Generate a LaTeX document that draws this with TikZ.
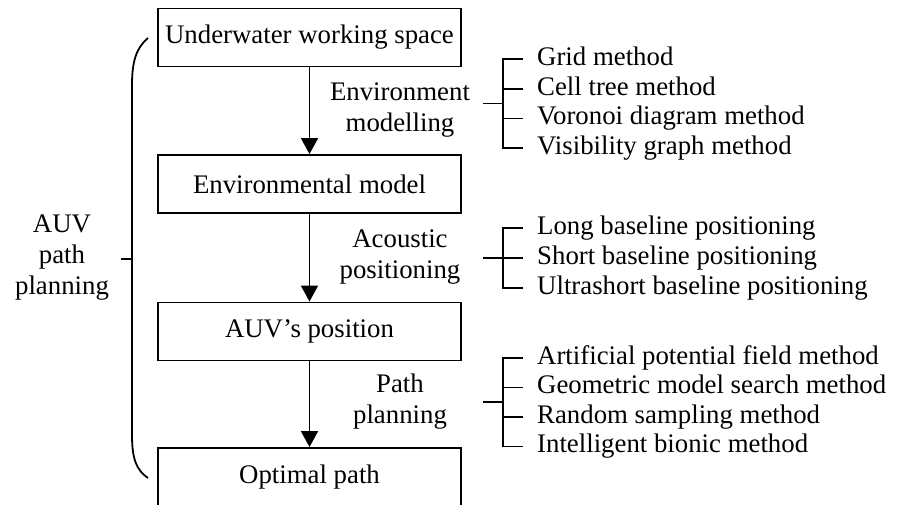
\documentclass[tikz,border=0pt]{standalone}
\usepackage{fontspec}
\setmainfont{Liberation Serif}
\usetikzlibrary{arrows.meta}
\begin{document}
\begin{tikzpicture}[x=1pt,y=-1pt,
  every node/.style={font=\fontsize{26.8}{31}\selectfont},
  stage/.style={draw, line width=1.9pt, minimum width=303pt, minimum height=58pt, inner sep=0pt},
  flow/.style={line width=1.8pt, -{Triangle[width=17pt,length=16pt]}},
  tag/.style={align=center, inner sep=0pt},
  item/.style={anchor=west, inner sep=0pt, text height=18pt, text depth=6pt},
  tree/.style={line width=1.8pt}]
\useasboundingbox (0,0) rectangle (899,504);

% main chain of stages
\node[stage] (s1) at (309.5,37.5) {Underwater working space};
\node[stage] (s2) at (309.5,184) {Environmental model};
\node[stage] (s3) at (309.5,331.5) {AUV’s position};
\node[stage] (s4) at (309.5,477) {Optimal path};

\draw[flow] (s1) -- (s2);
\draw[flow] (s2) -- (s3);
\draw[flow] (s3) -- (s4);

% step labels beside the arrows
\node[tag] (t1) at (400,110) {Environment\\modelling};
\node[tag] (t2) at (400,257) {Acoustic\\positioning};
\node[tag] (t3) at (400,402) {Path\\planning};

% overall label and its brace
\node[tag] (t0) at (62,258) {AUV\\path\\planning};
\coordinate (btop) at (148,38);
\coordinate (bbot) at (148,478);
\coordinate (bmid) at (132,259);
\draw[tree] (btop) .. controls (136,48) and (132,62) .. (132,85)
  -- (132,435) .. controls (132,458) and (136,470) .. (bbot);
\draw[tree] (bmid) -- ++(-11,0);

% environment modelling methods
\node[item] (e1) at (537,59) {Grid method};
\node[item] (e2) at (537,89) {Cell tree method};
\node[item] (e3) at (537,118.5) {Voronoi diagram method};
\node[item] (e4) at (537,148) {Visibility graph method};
\draw[tree] ([xshift=-14pt]e1.west) -| ([xshift=-34pt]e4.west) -- ([xshift=-14pt]e4.west);
\draw[tree] ([xshift=-34pt]e2.west) -- ([xshift=-14pt]e2.west);
\draw[tree] ([xshift=-34pt]e3.west) -- ([xshift=-14pt]e3.west);
\coordinate (ej) at (503,103.5);
\draw[tree] (ej) -- ++(-20,0);

% acoustic positioning methods
\node[item] (a1) at (537,228) {Long baseline positioning};
\node[item] (a2) at (537,258) {Short baseline positioning};
\node[item] (a3) at (537,288) {Ultrashort baseline positioning};
\draw[tree] ([xshift=-14pt]a1.west) -| ([xshift=-34pt]a3.west) -- ([xshift=-14pt]a3.west);
\draw[tree] ([xshift=-54pt]a2.west) -- ([xshift=-14pt]a2.west);

% path planning methods
\node[item] (p1) at (537,358) {Artificial potential field method};
\node[item] (p2) at (537,387.5) {Geometric model search method};
\node[item] (p3) at (537,417) {Random sampling method};
\node[item] (p4) at (537,446.5) {Intelligent bionic method};
\draw[tree] ([xshift=-14pt]p1.west) -| ([xshift=-34pt]p4.west) -- ([xshift=-14pt]p4.west);
\draw[tree] ([xshift=-34pt]p2.west) -- ([xshift=-14pt]p2.west);
\draw[tree] ([xshift=-34pt]p3.west) -- ([xshift=-14pt]p3.west);
\coordinate (pj) at (503,402);
\draw[tree] (pj) -- ++(-20,0);
\end{tikzpicture}
\end{document}
